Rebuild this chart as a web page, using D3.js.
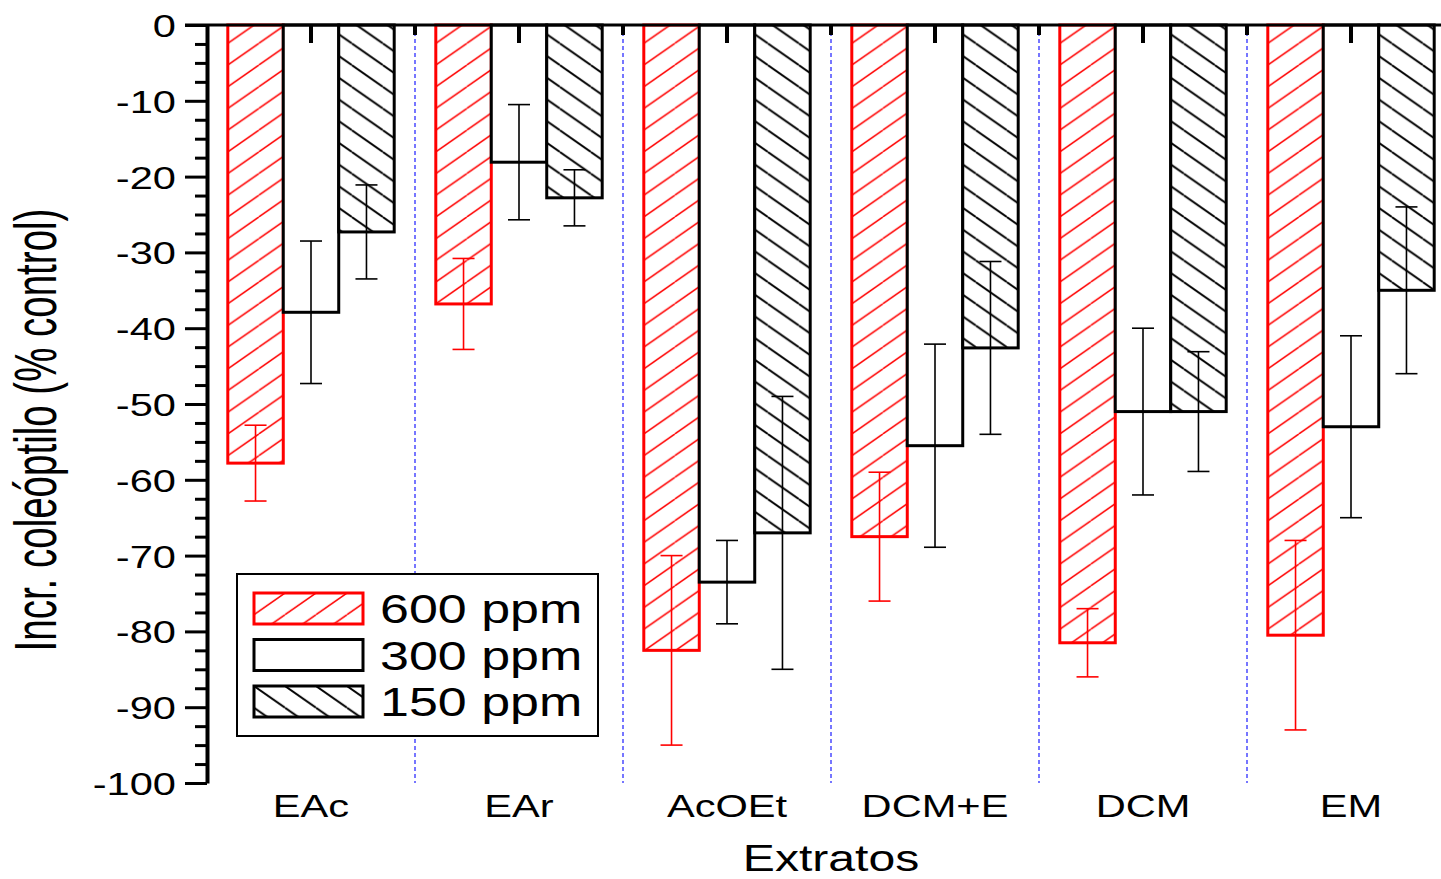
<!DOCTYPE html>
<html>
<head>
<meta charset="utf-8">
<script src="https://cdn.jsdelivr.net/npm/d3@7"></script>
<style>
  html, body { margin: 0; padding: 0; background: #fff; }
  svg { display: block; }
  text { font-family: "Liberation Sans", Arial, sans-serif; fill: #000; }
</style>
</head>
<body>
<svg id="chart" width="1441" height="879"></svg>
<script>
// ---- data ----
const categories = ["EAc", "EAr", "AcOEt", "DCM+E", "DCM", "EM"];
const seriesNames = ["600 ppm", "300 ppm", "150 ppm"];
const v600 = [-57.8, -36.8, -82.5, -67.5, -81.5, -80.5];
const e600 = [5.0, 6.0, 12.5, 8.5, 4.5, 12.5];
const v300 = [-37.9, -18.1, -73.5, -55.5, -51.0, -53.0];
const e300 = [9.4, 7.6, 5.5, 13.4, 11.0, 12.0];
const v150 = [-27.3, -22.8, -67.0, -42.6, -51.0, -35.0];
const e150 = [6.2, 3.7, 18.0, 11.4, 7.9, 11.0];
const yTicks = [0, -10, -20, -30, -40, -50, -60, -70, -80, -90, -100];
const yLabel = "Incr. coleóptilo (% control)";
const xLabel = "Extratos";

const seriesValues = [v600, v300, v150];
const seriesErrors = [e600, e300, e150];

// ---- layout ----
const svg = d3.select("#chart");
const SX = 1.3; // horizontal text stretch
const y = d3.scaleLinear().domain([-100, 0]).range([783, 25]);
const x = d3.scaleBand().domain(categories).range([207, 1455]).paddingInner(0.2).paddingOuter(0.1);
const xs = d3.scaleBand().domain(seriesNames).range([0, x.bandwidth()]);

const styles = [
  { stroke: "#ff0000", fill: "url(#hatchRed)", err: "#ff0000" },
  { stroke: "#000", fill: "#fff", err: "#000" },
  { stroke: "#000", fill: "url(#hatchBlack)", err: "#000" }
];

// hatch patterns: tile w x h, diagonal lines (no rotation)
const PW = 31, PH = 21.7;
function hatch(id, color, sw, up) {
  const p = svg.append("defs").append("pattern").attr("id", id)
    .attr("patternUnits", "userSpaceOnUse").attr("width", PW).attr("height", PH);
  p.append("rect").attr("width", PW).attr("height", PH).attr("fill", "#fff");
  [-1, 0, 1].forEach(k => {
    const l = p.append("line").attr("stroke", color).attr("stroke-width", sw);
    if (up) l.attr("x1", 0).attr("y1", PH + k * PH).attr("x2", PW).attr("y2", k * PH);
    else l.attr("x1", 0).attr("y1", k * PH).attr("x2", PW).attr("y2", PH + k * PH);
  });
}
hatch("hatchRed", "#ff0000", 1.5, true);
hatch("hatchBlack", "#000", 1.9, false);

// group boundaries (dashed blue)
const boundaries = categories.slice(1).map(c => x(c) - x.step() * x.paddingInner() / 2);
svg.append("g").selectAll("line").data(boundaries).join("line")
  .attr("x1", d => d).attr("x2", d => d)
  .attr("y1", y(0)).attr("y2", y(-100))
  .attr("stroke", "#4a4aff").attr("stroke-width", 1.5).attr("stroke-dasharray", "4,3");

// bars
const groups = svg.append("g").selectAll("g").data(categories).join("g")
  .attr("transform", c => `translate(${x(c)},0)`);
seriesNames.forEach((s, si) => {
  groups.append("rect")
    .attr("x", xs(s))
    .attr("y", y(0))
    .attr("width", xs.bandwidth())
    .attr("height", (c, i) => y(seriesValues[si][i]) - y(0))
    .attr("fill", styles[si].fill)
    .attr("stroke", styles[si].stroke)
    .attr("stroke-width", 3);
});
// error bars
seriesNames.forEach((s, si) => {
  const eg = groups.append("g").attr("stroke", styles[si].err).attr("stroke-width", 1.6).attr("fill", "none");
  const cx = xs(s) + xs.bandwidth() / 2;
  const cap = 11;
  eg.append("line").attr("x1", cx).attr("x2", cx)
    .attr("y1", (c, i) => y(seriesValues[si][i] + seriesErrors[si][i]))
    .attr("y2", (c, i) => y(seriesValues[si][i] - seriesErrors[si][i]));
  eg.append("line").attr("x1", cx - cap).attr("x2", cx + cap)
    .attr("y1", (c, i) => y(seriesValues[si][i] + seriesErrors[si][i]))
    .attr("y2", (c, i) => y(seriesValues[si][i] + seriesErrors[si][i]));
  eg.append("line").attr("x1", cx - cap).attr("x2", cx + cap)
    .attr("y1", (c, i) => y(seriesValues[si][i] - seriesErrors[si][i]))
    .attr("y2", (c, i) => y(seriesValues[si][i] - seriesErrors[si][i]));
});

// top axis line with inward ticks
svg.append("line").attr("x1", 185).attr("x2", 1441).attr("y1", y(0)).attr("y2", y(0))
  .attr("stroke", "#000").attr("stroke-width", 3);
const topAxis = svg.append("g").attr("transform", `translate(0,${y(0)})`)
  .call(d3.axisBottom(x).tickSize(18).tickSizeOuter(0).tickFormat(""));
topAxis.select(".domain").remove();
topAxis.selectAll(".tick line").attr("stroke", "#000").attr("stroke-width", 4);
svg.append("g").selectAll("line").data(boundaries).join("line")
  .attr("x1", d => d).attr("x2", d => d).attr("y1", y(0)).attr("y2", y(0) + 10)
  .attr("stroke", "#000").attr("stroke-width", 4);

// y axis
const minorTicks = d3.range(-100, 0.001, 2.5).filter(v => !yTicks.includes(Math.round(v * 10) / 10));
const yMinor = svg.append("g").attr("transform", "translate(207,0)")
  .call(d3.axisLeft(y).tickValues(minorTicks).tickSize(12).tickSizeOuter(0).tickFormat(""));
yMinor.select(".domain").remove();
yMinor.selectAll(".tick line").attr("stroke", "#000").attr("stroke-width", 3);

const yAxis = svg.append("g").attr("transform", "translate(207,0)")
  .call(d3.axisLeft(y).tickValues(yTicks).tickSize(22).tickSizeOuter(0).tickPadding(9).tickFormat(d3.format("d")));
yAxis.select(".domain").attr("stroke", "#000").attr("stroke-width", 4);
yAxis.selectAll(".tick line").attr("stroke", "#000").attr("stroke-width", 3);
yAxis.selectAll(".tick text")
  .attr("x", 0).attr("dy", "0.36em")
  .attr("transform", "translate(-31,0) scale(" + SX + ",1)")
  .attr("font-size", 32).attr("font-family", "'Liberation Sans', Arial, sans-serif")
  .text(d => d === 0 ? "0" : String(d).replace("−", "-"));

// category labels
svg.append("g").selectAll("text").data(categories).join("text")
  .attr("transform", c => `translate(${x(c) + x.bandwidth() / 2},817) scale(${SX},1)`)
  .attr("text-anchor", "middle").attr("font-size", 32)
  .text(c => c);

// axis titles
svg.append("text")
  .attr("transform", `translate(${(x.range()[0] + x.range()[1]) / 2},871) scale(${SX},1)`)
  .attr("text-anchor", "middle").attr("font-size", 37).text(xLabel);
svg.append("text")
  .attr("transform", "translate(56,430) rotate(-90) scale(1,1.55)")
  .attr("text-anchor", "middle").attr("font-size", 38.5).text(yLabel);

// legend
const lg = svg.append("g").attr("transform", "translate(237,574)");
lg.append("rect").attr("width", 361).attr("height", 162).attr("fill", "#fff")
  .attr("stroke", "#000").attr("stroke-width", 2);
seriesNames.forEach((s, si) => {
  const row = lg.append("g").attr("transform", `translate(17,${19 + si * 46.5})`);
  row.append("rect").attr("width", 109).attr("height", 31)
    .attr("fill", styles[si].fill).attr("stroke", styles[si].stroke).attr("stroke-width", 3);
  row.append("text").attr("transform", `translate(126,30) scale(${SX},1)`)
    .attr("font-size", 40).text(s);
});
</script>
</body>
</html>
